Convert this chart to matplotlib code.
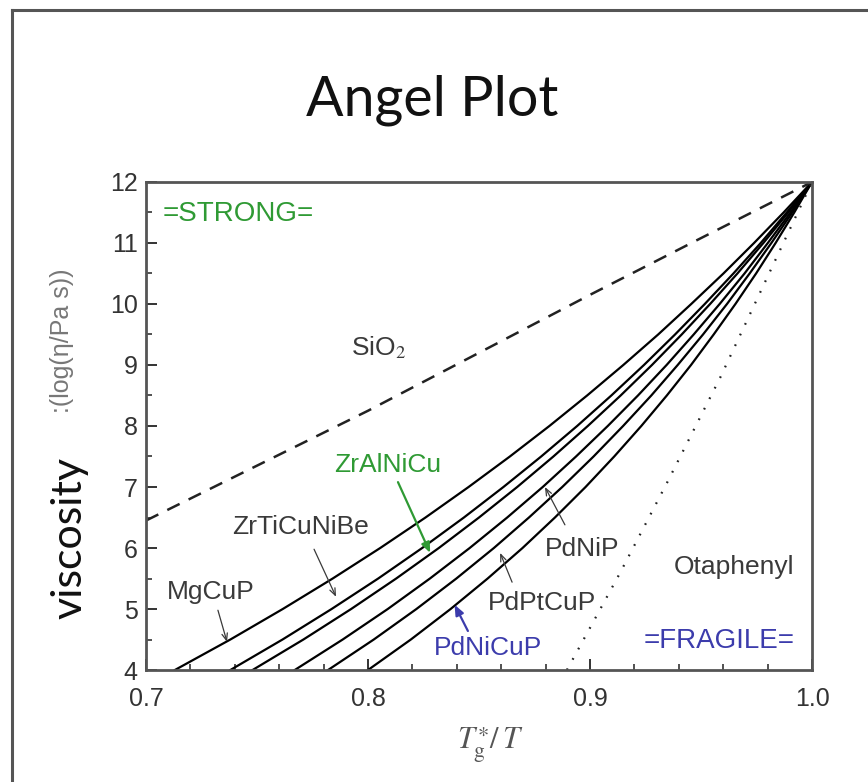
"""Angell plot: scaled viscosity vs. Tg*/T for bulk metallic glasses,
with SiO2 (strong) and o-terphenyl (fragile) as reference liquids."""

import matplotlib
matplotlib.use("Agg")
import matplotlib.pyplot as plt
from matplotlib.lines import Line2D
from matplotlib.ticker import MultipleLocator


# Viscosity levels at which the alloy curves were read (log(eta / Pa s))
VISC_LEVELS = [4, 4.5, 5, 5.5, 6, 6.5, 7, 7.5, 8, 8.5, 9, 9.5, 10, 10.5, 11, 11.5, 12]

# Tg*/T position of each alloy curve at those levels
ALLOY_NAMES = ["MgCuP", "ZrTiCuNiBe", "ZrAlNiCu", "PdNiP", "PdPtCuP", "PdNiCuP"]
MGCUP_X = [0.713, 0.7380, 0.7616, 0.7841, 0.8055, 0.8259, 0.8453, 0.8639, 0.8817,
           0.8987, 0.9150, 0.9307, 0.9456, 0.9601, 0.9739, 0.9872, 1.0]
ZRTICUNIBE_X = [0.738, 0.7615, 0.7836, 0.8046, 0.8244, 0.8432, 0.8610, 0.8780, 0.8942,
                0.9096, 0.9243, 0.9383, 0.9517, 0.9646, 0.9769, 0.9886, 1.0]
ZRALNICU_X = [0.748, 0.7709, 0.7924, 0.8127, 0.8319, 0.8500, 0.8672, 0.8835, 0.8990,
              0.9138, 0.9279, 0.9413, 0.9541, 0.9664, 0.9781, 0.9893, 1.0]
PDNIP_X = [0.767, 0.7886, 0.8089, 0.8279, 0.8458, 0.8627, 0.8787, 0.8937, 0.9080,
           0.9216, 0.9345, 0.9467, 0.9584, 0.9696, 0.9801, 0.9903, 1.0]
PDPTCUP_X = [0.782, 0.8026, 0.8218, 0.8398, 0.8567, 0.8725, 0.8875, 0.9016, 0.9149,
             0.9276, 0.9395, 0.9509, 0.9617, 0.9719, 0.9817, 0.9911, 1.0]
PDNICUP_X = [0.800, 0.8193, 0.8372, 0.8539, 0.8696, 0.8842, 0.8980, 0.9109, 0.9231,
             0.9346, 0.9455, 0.9557, 0.9655, 0.9748, 0.9836, 0.9920, 1.0]

# reference liquids
SIO2_X = [0.70, 0.75, 0.80, 0.85, 0.90, 0.95, 1.0]
SIO2_Y = [6.45, 7.35, 8.25, 9.20, 10.15, 11.08, 12.0]
OTP_X = [0.8896, 0.9135, 0.9347, 0.9586, 1.0]
OTP_Y = [4.0, 5.59, 7.07, 8.79, 12.0]

GREEN = "#2f9a34"
BLUE = "#3c3cac"
LABEL_GREY = "#3a3a3a"

plt.rcParams["font.family"] = ["Liberation Sans", "DejaVu Sans"]
plt.rcParams["mathtext.fontset"] = "stix"

fig = plt.figure(figsize=(8.68, 7.82), dpi=100)
ax = fig.add_axes([0.1682, 0.1432, 0.7673, 0.6241])

# slide frame (left and top edges only)
fig.add_artist(Line2D([0.014, 0.014], [0.0, 0.987], color="#555555", lw=2.2))
fig.add_artist(Line2D([0.014, 1.0], [0.987, 0.987], color="#555555", lw=2.2))

fig.text(0.498, 0.872, "Angel Plot", ha="center", va="center",
         fontsize=40, family=["Lato", "DejaVu Sans"], color="#111111")

alloys = [MGCUP_X, ZRTICUNIBE_X, ZRALNICU_X, PDNIP_X, PDPTCUP_X, PDNICUP_X]
for xs, name in zip(alloys, ALLOY_NAMES):
    ax.plot(xs, VISC_LEVELS, color="black", lw=1.6, label=name)

ax.plot(SIO2_X, SIO2_Y, color="#222222", lw=1.8, linestyle=(0, (5.5, 4)))
ax.plot(OTP_X, OTP_Y, color="#222222", lw=1.6, linestyle=(0, (0.8, 4.5)))

ax.set_xlim(0.7, 1.0)
ax.set_ylim(4, 12)
ax.xaxis.set_major_locator(MultipleLocator(0.1))
ax.xaxis.set_minor_locator(MultipleLocator(0.02))
ax.yaxis.set_major_locator(MultipleLocator(1))
ax.yaxis.set_minor_locator(MultipleLocator(0.5))
ax.xaxis.set_major_formatter(plt.FormatStrFormatter("%.1f"))
ax.tick_params(which="both", direction="in", top=False, right=False,
               labelsize=18, labelcolor="#333333", color="#333333")
ax.tick_params(which="major", length=8, width=1.4)
ax.tick_params(which="minor", length=4, width=1.2)
ax.tick_params(axis="x", which="major", pad=12)
ax.tick_params(axis="y", which="major", pad=6)
for side in ax.spines.values():
    side.set_linewidth(2.0)
    side.set_color("#555555")

ax.set_xlabel(r"$T_{\mathrm{g}}^{\ast}/\,T$", fontsize=22, color="#555555")
ax.xaxis.set_label_coords(0.5165, -0.115)
fig.text(0.0806, 0.312, "viscosity", rotation=90, ha="center", va="center",
         fontsize=31, family=["Lato", "DejaVu Sans"], color="#111111")
fig.text(0.0714, 0.564, ":(log(\u03b7/Pa s))", rotation=90, ha="center",
         va="center", fontsize=18, color="#777777")

# curve labels
txt = dict(fontsize=19, color=LABEL_GREY, ha="center", va="center")
ax.text(0.7075, 11.47, "=STRONG=", fontsize=20, color=GREEN, ha="left", va="center")
ax.text(0.958, 4.47, "=FRAGILE=", fontsize=20, color=BLUE, ha="center", va="center")
ax.text(0.805, 9.28, r"SiO$_2$", **txt)
ax.text(0.9649, 5.69, "Otaphenyl", **txt)

# (label, text position, arrow tail, arrow tip, colour, filled head)
callouts = [
    ("MgCuP", (0.7293, 5.28), (0.7324, 4.98), (0.7365, 4.46), LABEL_GREY, False),
    ("ZrTiCuNiBe", (0.7698, 6.34), (0.7757, 5.98), (0.7856, 5.20), LABEL_GREY, False),
    ("ZrAlNiCu", (0.8087, 7.36), (0.8135, 7.08), (0.8280, 5.92), GREEN, True),
    ("PdNiP", (0.8964, 5.98), (0.8887, 6.38), (0.8797, 7.00), LABEL_GREY, False),
    ("PdPtCuP", (0.8784, 5.10), (0.8649, 5.44), (0.8595, 5.92), LABEL_GREY, False),
    ("PdNiCuP", (0.854, 4.36), (0.8450, 4.64), (0.8390, 5.07), BLUE, True),
]
for label, pos, tail, tip, colour, filled in callouts:
    ax.text(pos[0], pos[1], label, fontsize=19, color=colour,
            ha="center", va="center")
    style = "-|>,head_length=0.6,head_width=0.25" if filled else "->,head_length=0.5,head_width=0.2"
    ax.annotate("", xy=tip, xytext=tail,
                arrowprops=dict(arrowstyle=style, color=colour,
                                lw=1.6 if filled else 0.9,
                                shrinkA=0, shrinkB=0))

fig.savefig("out.png", dpi=100)
